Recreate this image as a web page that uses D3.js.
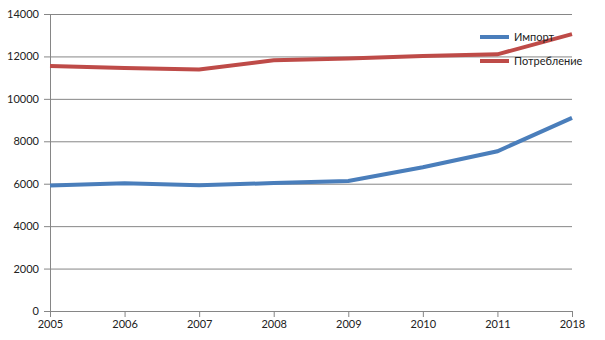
<!DOCTYPE html>
<html>
<head>
<meta charset="utf-8">
<script src="https://cdn.jsdelivr.net/npm/d3@7"></script>
<style>
  body { margin: 0; background: #fff; }
  text { font-family: Lato, "Open Sans", sans-serif; }
</style>
</head>
<body>
<div id="chart"></div>
<script>
// Chart data
const years = ['2005', '2006', '2007', '2008', '2009', '2010', '2011', '2018'];
const importValues = [5920, 6020, 5930, 6030, 6130, 6780, 7530, 9100];
const consumptionValues = [11550, 11460, 11380, 11820, 11900, 12020, 12100, 13050];
const yTicks = [0, 2000, 4000, 6000, 8000, 10000, 12000, 14000];
const seriesNames = ['Импорт', 'Потребление'];
const colors = ['#4a7ebb', '#be4b48'];

const margin = { top: 14, right: 33, bottom: 29, left: 50 };
const width = 605 - margin.left - margin.right;
const height = 340 - margin.top - margin.bottom;

const svg = d3.select('#chart')
    .append('svg')
    .attr('width', 605)
    .attr('height', 340)
    .append('g')
    .attr('transform', `translate(${margin.left},${margin.top})`);

// Scales
const x = d3.scalePoint().domain(years).range([0, width]);
const y = d3.scaleLinear().domain([0, 14000]).range([height, 0]);

// Gridlines
svg.append('g').call(d3.axisLeft(y).tickValues(yTicks).tickSize(-width).tickFormat(''))
    .call(g => g.select('.domain').remove())
    .selectAll('line').attr('stroke', '#868686');

// Y axis
svg.append('g').call(d3.axisLeft(y).tickValues(yTicks).tickSize(6).tickPadding(5).tickFormat(d => d))
    .call(g => g.selectAll('line, path').attr('stroke', '#868686'))
    .call(g => g.selectAll('text').attr('fill', '#222').style('font-size', '11px'));

// X axis
svg.append('g').attr('transform', `translate(0,${height})`)
    .call(d3.axisBottom(x).tickSize(6).tickSizeOuter(0).tickPadding(3))
    .call(g => g.selectAll('line, path').attr('stroke', '#868686'))
    .call(g => g.selectAll('text').attr('fill', '#222').style('font-size', '11px'));

// Lines
const line = d3.line().x((d, i) => x(years[i])).y(d => y(d));
[importValues, consumptionValues].forEach((vals, i) => {
    svg.append('path').datum(vals).attr('d', line)
        .attr('fill', 'none').attr('stroke', colors[i]).attr('stroke-width', 4);
});

// Legend
const legend = svg.append('g').attr('transform', `translate(${480 - margin.left},${37 - margin.top})`);
seriesNames.forEach((name, i) => {
    const row = legend.append('g').attr('transform', `translate(0,${i * 24})`);
    row.append('line').attr('x1', 0).attr('x2', 29).attr('y1', 0).attr('y2', 0)
        .attr('stroke', colors[i]).attr('stroke-width', 4);
    row.append('text').attr('x', 34).attr('y', 0).attr('dy', '0.35em')
        .attr('fill', '#222').style('font-size', '11px').text(name);
});
</script>
</body>
</html>
